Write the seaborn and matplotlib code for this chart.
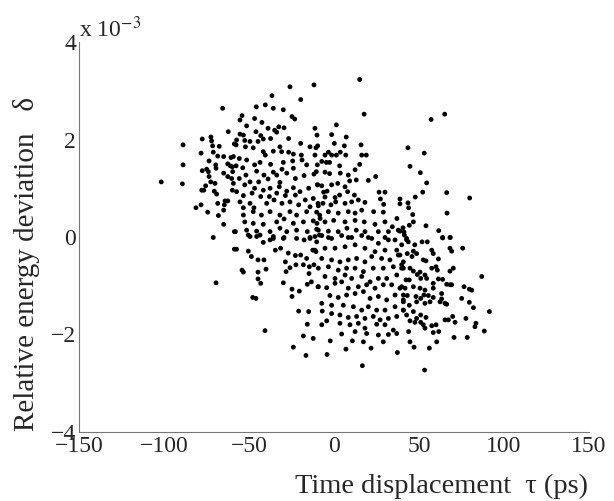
import matplotlib
matplotlib.use("Agg")
import matplotlib.pyplot as plt
import seaborn as sns
import pandas as pd

# Time displacement tau (ps) and relative energy deviation delta (units of 1e-3),
# read off the reference picture.
tau_ps = [
    -65.5, -62.2, -77.5, -72.4, -72.0, -88.8, -71.4, -67.5, -58.6, -78.2, -71.0, -68.4, -64.9, -60.6,
    -88.8, -73.5, -69.6, -69.4, -62.5, -61.0, -59.8, -77.5, -74.9, -73.9, -64.9, -62.5, -60.2, -101.6,
    -89.2, -73.5, -72.5, -70.0, -75.5, -77.8, -76.6, -70.4, -69.0, -59.8, -64.1, -62.5, -64.5, -64.9,
    -68.4, -78.2, -81.2, -74.3, -68.0, -64.9, -71.0, -58.6, -69.4, -58.6,
    -25.9, -11.8, -36.5, -19.6, -45.7, -40.4, -35.7, -29.8, -24.7, -23.1, -54.1, -46.7, -42.4, -55.3,
    -51.4, -38.8, -34.9, -32.5, -29.4, -33.7, -45.9, -55.3, -53.3, -43.1, -41.6, -37.3, -26.7, -57.3,
    -52.5, -49.4, -44.7, -19.6, -57.6, -52.1, -47.5, -41.6, -40.4, -31.8, -30.8, -35.7, -26.7, -23.9,
    -19.2, -14.1, -10.6, -11.2, -59.2, -55.7, -51.4, -46.7, -43.5, -37.3, -29.8, -24.3, -18.8, -57.6,
    -53.7, -59.6, -51.8, -45.5, -41.2, -35.7, -30.6, -27.8, -23.9, -16.1, -9.8, -55.7, -49.4, -44.3,
    -38.8, -33.7, -31.8, -22.7, -17.6, -11.8, -59.2, -52.5, -46.7, -41.6, -37.6, -32.2, -27.8, -23.9,
    -20.0, -14.9, -9.8, -57.3, -53.3, -48.2, -43.1, -38.0, -33.7, -28.6, -22.7, -16.9, -12.2, -55.3,
    -49.4, -53.3, -47.1, -39.6, -35.3, -30.6, -25.9, -20.8, -14.1, -9.4, -53.3, -47.5, -42.7, -37.6,
    -31.8, -25.9, -22.0, -16.1, -10.2, -52.5, -47.5, -41.6, -33.7, -29.4, -23.9, -18.0, -12.2, -8.2,
    -51.4, -45.5, -37.6, -31.8, -27.8, -22.0, -15.7, -10.2, -58.0, -49.4, -43.5, -35.7, -29.8, -22.0,
    -14.1, -8.6,
    -50.4, -45.5, -41.6, -37.6, -35.7, -29.4, -17.6, -14.1, -10.2, -57.3, -50.4, -48.6, -44.7, -41.2,
    -34.5, -31.4, -26.9, -22.7, -19.6, -16.1, -12.5, -10.6, -28.6, -25.9, -22.4, -18.0, -14.5, -11.8,
    -54.1, -53.3, -40.0, -44.7, -28.2, -14.7, -44.7, -43.1, -29.8, -13.3, -15.7, -9.4, -24.7, -20.4,
    -24.7, -47.8, -45.9, -20.8, -14.9, -40.6, -15.7, -18.0, -12.2, -23.9, -16.5,
    15.1, 17.7, 1.4, -11.2, -10.0, -1.4, 7.2, 0.2, 6.1, 15.9, -9.6, -5.3, -3.3, -1.4, 1.4, 3.7, 6.9,
    16.3, 19.0, -7.2, -4.5, -2.6, 3.3, 15.1, -10.4, -5.3, -2.6, 3.7, 12.4, 8.4, 9.2, 13.1, 20.2, 24.5,
    -9.6, -7.2, -6.1, -4.1, -1.4, 2.2, 6.5, -5.3, 0.6, 3.3, 8.0, 12.0, 26.5, 30.0, -9.2, -6.5, -1.8,
    1.0, 6.5, 10.4, 14.3, 18.2, 27.3, 29.2, -3.3, 2.5, 8.4, 12.4, 16.3, 23.3, 29.0, 37.0, -8.4, -10.0,
    -5.3, -0.2, 6.5, 12.4, 17.8, 24.1, 30.0, 34.3, 40.6, -9.2, -3.3, 2.5, 7.6, 13.1, 18.2, 20.2, 26.1,
    32.0, 37.8, 41.4, -11.2, -3.3, 8.4, 30.0,
    -7.2, -1.4, 4.5, 10.4, 16.3, 22.2, 26.1, 32.0, 35.9, 39.8, -11.2, -5.3, 0.6, 6.5, 12.4, 18.2, 24.1,
    30.0, 36.9, -7.2, -1.4, 3.5, 8.4, 13.3, 18.2, 22.2, 28.0, 32.9, 37.8, 40.8, -9.2, -3.3, 2.5, 7.4,
    12.4, 17.3, 23.1, 29.0, 34.9, 39.8, -5.3, 0.6, 6.5, 10.4, 16.3, 21.2, 26.1, 31.0, 36.9, -9.2, -4.3,
    0.6, 4.5, 8.4, 14.3, 19.2, 24.1, 29.0, 33.9, 38.8, -2.4, 2.5, 7.4, 12.4, 17.3, 21.2, 26.1, 31.0,
    35.9, 40.8, -7.2, -1.4, 5.5, 11.4, 16.3, 20.2, 25.1, 30.0, 35.9, 40.8, -6.9, -1.4, 3.5, 8.4, 13.3,
    18.2, 23.1, 27.1, 32.0, 36.9, -7.2, -4.3, 3.5, 9.4, 14.3, 18.2, 25.1, 30.0, 34.9, 4.5, 12.4, 19.2,
    26.1, 32.0, 36.9, -2.2, 10.8, 17.3, 21.8, 29.0, 7.0, -4.1, 37.3, 16.7,
    65.1, 57.1, 43.5, 53.1, 44.7, 50.8, 54.5, 52.2, 66.3, 47.8, 79.8, 38.8, 43.5, 38.8, 43.9, 46.3,
    66.5, 46.7, 54.1, 44.3, 61.6, 38.8, 41.2, 63.9, 68.4, 42.7,
    42.7, 43.7, 51.8, 54.9, 63.9, 68.2, 47.5, 46.7, 48.6, 57.5, 58.4, 68.2, 69.2, 75.7, 43.1, 45.9,
    38.8, 52.5, 54.1, 61.4, 39.8, 40.8, 44.7, 46.7, 49.0, 50.6, 57.5, 60.0, 60.8, 68.2, 70.2, 86.9,
    42.4, 44.3, 51.0, 53.5, 54.5, 58.4, 61.4, 63.9, 66.3, 68.2, 69.2, 76.5, 79.6, 81.0, 39.8, 41.8,
    46.7, 50.6, 53.5, 58.4, 63.3, 40.8, 43.1, 48.2, 51.0, 52.9, 55.5, 58.4, 63.3, 65.3, 75.1, 79.6,
    82.0, 40.8, 44.3, 48.6, 53.5, 56.5, 62.4, 66.3, 40.8, 42.7, 46.7, 48.6, 51.0, 54.1, 65.3, 67.3,
    69.8, 71.2, 77.6, 91.4, 44.7, 47.6, 51.0, 52.5, 53.5, 57.5, 60.0, 83.5, 82.9, 88.4, 43.9, 58.4,
    61.6, 70.6, 78.4, 44.7, 60.4, 47.1, 56.1, 53.3,
]
delta_e3 = [
    2.64, 2.16, 2.01, 2.05, 1.97, 1.89, 1.87, 1.86, 1.91, 1.72, 1.74, 1.66, 1.65, 1.63,
    1.48, 1.56, 1.48, 1.41, 1.50, 1.46, 1.44, 1.36, 1.39, 1.34, 1.31, 1.24, 1.20, 1.13,
    1.09, 1.24, 1.13, 1.10, 1.05, 0.96, 0.96, 0.94, 0.88, 0.96, 0.74, 0.74, 0.66, 0.55,
    0.69, 0.66, 0.60, 0.51, 0.44, 0.26, -0.01, 0.11, -0.94, -0.25,
    3.08, 3.12, 2.90, 2.82, 2.67, 2.71, 2.64, 2.61, 2.47, 2.42, 2.49, 2.43, 2.35, 2.40,
    2.28, 2.23, 2.19, 2.26, 2.24, 2.15, 2.16, 2.11, 2.09, 2.08, 2.01, 2.02, 2.02, 1.99,
    1.98, 1.96, 1.96, 1.92, 1.89, 1.85, 1.83, 1.75, 1.68, 1.85, 1.75, 1.76, 1.74, 1.70,
    1.68, 1.85, 1.83, 1.68, 1.65, 1.61, 1.58, 1.48, 1.53, 1.49, 1.53, 1.56, 1.58, 1.46,
    1.42, 1.34, 1.27, 1.35, 1.27, 1.33, 1.39, 1.31, 1.41, 1.48, 1.48, 1.20, 1.13, 1.13,
    1.19, 1.27, 1.12, 1.20, 1.26, 1.29, 1.10, 1.07, 1.00, 0.96, 1.00, 1.03, 0.94, 1.01,
    0.93, 1.00, 1.07, 0.93, 0.85, 0.90, 0.83, 0.83, 0.90, 0.85, 0.86, 0.76, 0.79, 0.72,
    0.69, 0.60, 0.60, 0.69, 0.76, 0.69, 0.72, 0.66, 0.62, 0.69, 0.45, 0.52, 0.45, 0.52,
    0.45, 0.52, 0.45, 0.52, 0.51, 0.31, 0.28, 0.26, 0.31, 0.37, 0.28, 0.31, 0.33, 0.38,
    0.14, 0.12, 0.11, 0.18, 0.11, 0.14, 0.11, 0.16, 0.11, 0.01, 0.04, 0.01, -0.03, -0.03,
    -0.01, 0.04,
    0.04, 0.01, -0.11, -0.06, -0.03, -0.01, -0.06, -0.03, -0.10, -0.25, -0.29, -0.40, -0.47, -0.47,
    -0.27, -0.23, -0.33, -0.38, -0.37, -0.44, -0.27, -0.30, -0.51, -0.63, -0.57, -0.57, -0.61, -0.57,
    -0.68, -0.72, -0.66, -0.72, -0.71, -0.75, -0.86, -0.95, -0.94, -0.92, -0.97, -1.02, -1.07, -1.11,
    -1.22, -1.24, -1.26, -1.52, -1.53, -1.92, -1.79, -2.03, -2.08, -2.26, -2.43,
    3.23, 2.52, 2.30, 2.23, 2.09, 2.10, 2.05, 1.92, 1.87, 1.89, 1.87, 1.68, 1.74, 1.68, 1.68, 1.74, 1.68,
    1.68, 1.68, 1.55, 1.53, 1.53, 1.46, 1.49, 1.34, 1.33, 1.30, 1.31, 1.38, 1.27, 1.15, 1.17, 1.16, 1.24,
    1.07, 1.05, 0.92, 0.94, 1.07, 1.10, 1.03, 0.82, 0.81, 0.86, 0.93, 0.86, 0.92, 0.92, 0.64, 0.69, 0.66,
    0.72, 0.69, 0.72, 0.76, 0.71, 0.78, 0.67, 0.52, 0.49, 0.52, 0.49, 0.55, 0.52, 0.51, 0.38, 0.45, 0.28,
    0.31, 0.34, 0.31, 0.34, 0.31, 0.26, 0.31, 0.21, 0.19, 0.14, 0.12, 0.11, 0.18, 0.14, 0.11, -0.01, 0.11,
    0.11, 0.14, 0.04, 0.01, -0.01, -0.01, -0.01,
    0.03, -0.03, 0.03, -0.01, 0.03, -0.03, -0.13, -0.06, -0.06, -0.16, -0.27, -0.23, -0.23, -0.20, -0.16, -0.23, -0.30,
    -0.27, -0.27, -0.44, -0.47, -0.51, -0.47, -0.44, -0.51, -0.40, -0.44, -0.47, -0.37, -0.51, -0.64, -0.61, -0.68, -0.64,
    -0.64, -0.71, -0.64, -0.64, -0.61, -0.64, -0.81, -0.85, -0.78, -0.85, -0.81, -0.92, -0.85, -0.85, -0.78, -1.02, -1.04,
    -0.95, -0.92, -1.05, -1.02, -0.98, -1.05, -0.98, -0.98, -1.05, -1.20, -1.24, -1.19, -1.16, -1.12, -1.26, -1.22, -1.29,
    -1.19, -1.29, -1.36, -1.40, -1.40, -1.43, -1.50, -1.43, -1.50, -1.50, -1.43, -1.50, -1.52, -1.57, -1.60, -1.65, -1.63,
    -1.67, -1.63, -1.70, -1.67, -1.63, -1.80, -1.72, -1.77, -1.80, -1.77, -1.87, -1.79, -1.80, -1.91, -1.99, -1.94, -1.98,
    -2.01, -2.00, -1.98, -2.13, -2.13, -2.15, -2.28, -2.15, -2.30, -2.41, -2.37, -2.64,
    2.52, 2.41, 1.83, 1.72, 1.45, 1.32, 1.11, 0.92, 0.91, 0.82, 0.80, 0.78, 0.70, 0.68, 0.60, 0.46,
    0.49, 0.31, 0.23, 0.24, 0.13, 0.12, 0.10, -0.02, -0.01, -0.03,
    -0.06, -0.10, -0.10, -0.10, -0.01, -0.01, -0.16, -0.29, -0.34, -0.27, -0.34, -0.23, -0.29, -0.23, -0.34, -0.40,
    -0.37, -0.47, -0.49, -0.45, -0.57, -0.64, -0.64, -0.70, -0.77, -0.72, -0.64, -0.61, -0.68, -0.70, -0.64, -0.81,
    -0.88, -0.88, -0.85, -0.78, -0.85, -0.95, -0.86, -0.87, -0.97, -0.98, -0.98, -1.02, -1.07, -1.09, -1.02, -1.05,
    -1.02, -1.05, -1.09, -1.05, -1.16, -1.19, -1.20, -1.22, -1.26, -1.19, -1.20, -1.24, -1.27, -1.36, -1.26, -1.34,
    -1.45, -1.33, -1.40, -1.33, -1.36, -1.33, -1.33, -1.38, -1.50, -1.60, -1.53, -1.67, -1.60, -1.65, -1.70, -1.70,
    -1.63, -1.75, -1.67, -1.53, -1.72, -1.75, -1.75, -1.80, -1.87, -1.82, -1.80, -1.77, -1.84, -1.93, -1.94, -1.96,
    -1.94, -2.06, -2.06, -2.15, -2.15, -2.26, -2.28, -2.73,
]

x_ticks = [-150, -100, -50, 0, 50, 100, 150]
y_ticks = [-4, -2, 0, 2, 4]

n = min(len(tau_ps), len(delta_e3))
df = pd.DataFrame({"tau": tau_ps[:n], "delta": delta_e3[:n]})

sns.set_theme(style="white")
plt.rcParams["font.family"] = ["Liberation Serif", "DejaVu Serif"]
plt.rcParams["mathtext.fontset"] = "stix"

fig = plt.figure(figsize=(6.14, 5.01), dpi=100)
ax = fig.add_axes([79 / 614, 1 - 432 / 501, (589 - 79) / 614, (432 - 42) / 501])

sns.scatterplot(data=df, x="tau", y="delta", ax=ax, color="black", s=12,
                linewidth=0, edgecolor="none")

ax.set_xlim(-150, 150)
ax.set_ylim(-4, 4)
ax.set_xticks(x_ticks)
ax.set_yticks(y_ticks)
ax.set_xticklabels([f"{t}".replace("-", "\u2212") for t in x_ticks], fontsize=17)
ax.set_yticklabels([f"{t}".replace("-", "\u2212") for t in y_ticks], fontsize=17)
ax.tick_params(axis="x", direction="in", length=3, width=0.6, color="#555555", pad=3)
ax.tick_params(axis="y", direction="in", length=3, width=0.6, color="#555555", pad=2)
for side in ["top", "right"]:
    ax.spines[side].set_visible(False)
for side in ["left", "bottom"]:
    ax.spines[side].set_color("#777777")
    ax.spines[side].set_linewidth(0.8)

ax.set_xlabel("Time displacement  \u03c4 (ps)", fontsize=20.5)
ax.set_ylabel("Relative energy deviation   \u03b4", fontsize=21)
ax.xaxis.set_label_coords(0.71, -0.108)
ax.yaxis.set_label_coords(-0.076, 0.43)
ax.text(0.0, 1.0, r"x 10$^{-3}$", transform=ax.transAxes, fontsize=17,
        ha="left", va="bottom")

fig.savefig("out.png", dpi=100)
